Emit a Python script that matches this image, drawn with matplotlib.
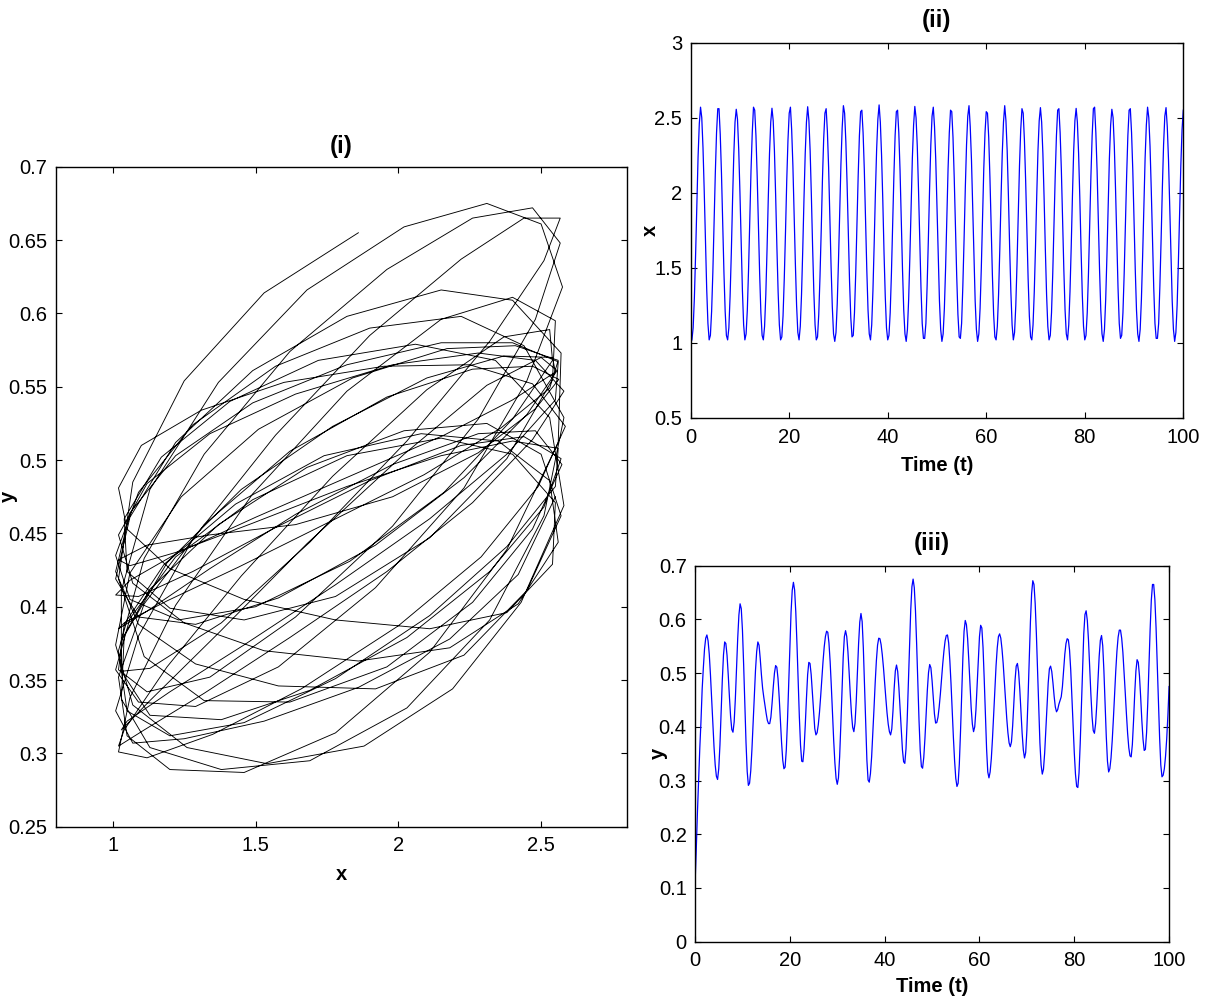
#!/usr/bin/env python3

import numpy as np
import matplotlib
matplotlib.use('Agg')
import matplotlib.pyplot as plt

# sampling grid of the simulation (time units)
t = np.arange(0, 100.001, 0.25)

x_vals = [
    1.00, 1.02, 1.10, 1.30,  1.59, 1.93, 2.24, 2.46,  2.57, 2.50, 2.30, 2.01,
    1.67, 1.36, 1.13, 1.02,  1.05, 1.21, 1.47, 1.81,  2.13, 2.40, 2.56, 2.56,
    2.39, 2.13, 1.80, 1.47,  1.21, 1.05, 1.02, 1.10,  1.31, 1.60, 1.95, 2.25,
    2.47, 2.556, 2.49, 2.29, 2.00, 1.66, 1.35, 1.12,  1.02, 1.06, 1.22, 1.49,
    1.82, 2.15, 2.40, 2.57,  2.55, 2.38, 2.11, 1.78,  1.46, 1.20, 1.05, 1.02,
    1.11, 1.32, 1.62, 1.96,  2.26, 2.47, 2.563, 2.48, 2.28, 1.98, 1.64, 1.34,
    1.12, 1.02, 1.04, 1.18,  1.43, 1.74, 2.08, 2.35,  2.53, 2.57, 2.42, 2.18,
    1.86, 1.53, 1.25, 1.07,  1.02, 1.11, 1.32, 1.62,  1.96, 2.26, 2.47, 2.573,
    2.48, 2.28, 1.98, 1.64,  1.34, 1.12, 1.02, 1.04,  1.19, 1.44, 1.75, 2.09,
    2.36, 2.53, 2.56, 2.41,  2.17, 1.84, 1.51, 1.24,  1.06, 1.01, 1.07, 1.26,
    1.54, 1.88, 2.19, 2.43,  2.58, 2.53, 2.34, 2.06,  1.72, 1.41, 1.17, 1.04,
    1.05, 1.20, 1.46, 1.78,  2.11, 2.38, 2.54, 2.55,  2.40, 2.15, 1.82, 1.49,
    1.22, 1.06, 1.02, 1.12,  1.35, 1.66, 2.00, 2.29,  2.49, 2.585, 2.47, 2.25,
    1.95, 1.60, 1.31, 1.10,  1.02, 1.05, 1.20, 1.46,  1.78, 2.11, 2.38, 2.54,
    2.55, 2.40, 2.15, 1.82,  1.49, 1.22, 1.06, 1.01,  1.09, 1.29, 1.58, 1.92,
    2.23, 2.45, 2.575, 2.50, 2.31, 2.02, 1.68, 1.37,  1.13, 1.03, 1.03, 1.13,
    1.38, 1.69, 2.03, 2.32,  2.51, 2.57, 2.44, 2.22,  1.90, 1.57, 1.28, 1.09,
    1.01, 1.06, 1.23, 1.50,  1.83, 2.16, 2.40, 2.55,  2.54, 2.37, 2.10, 1.77,
    1.45, 1.19, 1.04, 1.03,  1.13, 1.38, 1.69, 2.03,  2.32, 2.51, 2.58, 2.44,
    2.22, 1.90, 1.57, 1.28,  1.09, 1.01, 1.06, 1.23,  1.50, 1.83, 2.16, 2.40,
    2.54, 2.53, 2.37, 2.10,  1.77, 1.45, 1.19, 1.04,  1.02, 1.11, 1.32, 1.62,
    1.96, 2.26, 2.47, 2.58,  2.48, 2.28, 1.98, 1.64,  1.34, 1.12, 1.02, 1.07,
    1.25, 1.53, 1.86, 2.18,  2.42, 2.56, 2.53, 2.35,  2.08, 1.74, 1.43, 1.18,
    1.04, 1.02, 1.12, 1.34,  1.64, 1.98, 2.28, 2.48,  2.567, 2.47, 2.26, 1.96,
    1.62, 1.32, 1.11, 1.02,  1.05, 1.20, 1.46, 1.78,  2.11, 2.38, 2.55, 2.56,
    2.40, 2.15, 1.82, 1.49,  1.22, 1.06, 1.02, 1.12,  1.34, 1.64, 1.98, 2.28,
    2.48, 2.562, 2.47, 2.26, 1.96, 1.62, 1.32, 1.11,  1.02, 1.05, 1.20, 1.46,
    1.78, 2.11, 2.38, 2.56,  2.57, 2.40, 2.15, 1.82,  1.49, 1.22, 1.06, 1.01,
    1.09, 1.29, 1.58, 1.92,  2.23, 2.45, 2.556, 2.50, 2.31, 2.02, 1.68, 1.37,
    1.13, 1.03, 1.05, 1.20,  1.46, 1.78, 2.11, 2.38,  2.55, 2.56, 2.40, 2.15,
    1.82, 1.49, 1.22, 1.06,  1.01, 1.09, 1.29, 1.58,  1.92, 2.23, 2.45, 2.57,
    2.50, 2.31, 2.02, 1.68,  1.37, 1.13, 1.03, 1.03,  1.13, 1.38, 1.69, 2.03,
    2.32, 2.51, 2.567, 2.44, 2.22, 1.90, 1.57, 1.28,  1.09, 1.01, 1.07, 1.25,
    1.53, 1.86, 2.18, 2.42,  2.55,
]

y_vals = [
    0.108, 0.17, 0.24, 0.30,  0.36, 0.41, 0.47, 0.51,  0.545, 0.565, 0.571, 0.560,
    0.535, 0.497, 0.453, 0.406,  0.363, 0.329, 0.308, 0.302,  0.322, 0.366, 0.426, 0.487,
    0.534, 0.558, 0.555, 0.533,  0.497, 0.456, 0.419, 0.395,  0.390, 0.409, 0.452, 0.508,
    0.565, 0.608, 0.629, 0.620,  0.580, 0.516, 0.442, 0.371,  0.317, 0.291, 0.295, 0.318,
    0.358, 0.406, 0.458, 0.505,  0.540, 0.558, 0.552, 0.527,  0.497, 0.472, 0.455, 0.440,
    0.425, 0.412, 0.406, 0.406,  0.418, 0.444, 0.474, 0.500,  0.514, 0.511, 0.490, 0.455,
    0.412, 0.371, 0.338, 0.322,  0.325, 0.357, 0.411, 0.480,  0.551, 0.613, 0.654, 0.669,
    0.655, 0.614, 0.554, 0.485,  0.419, 0.366, 0.336, 0.335,  0.359, 0.403, 0.453, 0.497,
    0.520, 0.518, 0.497, 0.463,  0.426, 0.397, 0.385, 0.389,  0.404, 0.427, 0.457, 0.490,
    0.522, 0.549, 0.568, 0.578,  0.576, 0.556, 0.521, 0.475,  0.423, 0.374, 0.333, 0.304,
    0.293, 0.305, 0.344, 0.403,  0.469, 0.529, 0.568, 0.579,  0.568, 0.540, 0.502, 0.460,
    0.424, 0.399, 0.391, 0.407,  0.447, 0.501, 0.555, 0.595,  0.611, 0.596, 0.547, 0.477,
    0.401, 0.338, 0.301, 0.297,  0.313, 0.344, 0.387, 0.434,  0.482, 0.523, 0.552, 0.565,
    0.564, 0.553, 0.534, 0.510,  0.481, 0.453, 0.426, 0.405,  0.391, 0.385, 0.396, 0.429,
    0.471, 0.504, 0.515, 0.503,  0.473, 0.434, 0.392, 0.357,  0.335, 0.332, 0.359, 0.413,
    0.481, 0.554, 0.618, 0.661,  0.675, 0.659, 0.616, 0.553,  0.480, 0.411, 0.356, 0.326,
    0.323, 0.343, 0.379, 0.424,  0.468, 0.501, 0.516, 0.510,  0.486, 0.454, 0.424, 0.407,
    0.408, 0.418, 0.437, 0.461,  0.489, 0.517, 0.541, 0.560,  0.570, 0.571, 0.556, 0.523,
    0.480, 0.430, 0.380, 0.337,  0.304, 0.289, 0.295, 0.331,  0.391, 0.462, 0.529, 0.578,
    0.598, 0.590, 0.564, 0.524,  0.478, 0.435, 0.405, 0.391,  0.400, 0.431, 0.478, 0.528,
    0.568, 0.589, 0.584, 0.548,  0.489, 0.421, 0.359, 0.316,  0.305, 0.316, 0.341, 0.379,
    0.424, 0.471, 0.514, 0.547,  0.568, 0.573, 0.565, 0.545,  0.518, 0.484, 0.449, 0.416,
    0.389, 0.370, 0.363, 0.372,  0.402, 0.444, 0.486, 0.513,  0.518, 0.503, 0.470, 0.429,
    0.388, 0.357, 0.342, 0.352,  0.393, 0.455, 0.528, 0.596,  0.648, 0.672, 0.665, 0.630,
    0.574, 0.504, 0.433, 0.370,  0.329, 0.312, 0.321, 0.351,  0.394, 0.441, 0.482, 0.508,
    0.513, 0.503, 0.482, 0.457,  0.437, 0.428, 0.432, 0.442,  0.449, 0.456, 0.475, 0.505,
    0.535, 0.555, 0.564, 0.562,  0.543, 0.506, 0.456, 0.402,  0.352, 0.312, 0.289, 0.287,
    0.314, 0.369, 0.439, 0.512,  0.573, 0.609, 0.616, 0.598,  0.561, 0.512, 0.461, 0.419,
    0.393, 0.388, 0.406, 0.442,  0.488, 0.531, 0.561, 0.570,  0.551, 0.504, 0.443, 0.382,
    0.336, 0.316, 0.322, 0.342,  0.374, 0.415, 0.460, 0.504,  0.541, 0.567, 0.580, 0.580,
    0.565, 0.539, 0.503, 0.464,  0.424, 0.388, 0.361, 0.346,  0.344, 0.367, 0.411, 0.462,
    0.504, 0.525, 0.520, 0.495,  0.456, 0.412, 0.377, 0.356,  0.358, 0.389, 0.444, 0.513,
    0.581, 0.636, 0.665, 0.665,  0.637, 0.585, 0.517, 0.446,  0.380, 0.329, 0.307, 0.310,
    0.322, 0.345, 0.378, 0.422,  0.475,
]

# phase portrait drawn after the transient
phase_start = 21.0

x_vals = np.array(x_vals)
y_vals = np.array(y_vals)
keep = t >= phase_start

plt.rcParams['font.family'] = ['Liberation Sans', 'DejaVu Sans']
plt.rcParams['font.size'] = 14.5
plt.rcParams['axes.linewidth'] = 1.0
plt.rcParams['xtick.direction'] = 'in'
plt.rcParams['ytick.direction'] = 'in'
plt.rcParams['xtick.top'] = True
plt.rcParams['ytick.right'] = True
plt.rcParams['xtick.major.size'] = 4.5
plt.rcParams['ytick.major.size'] = 4.5
plt.rcParams['xtick.major.pad'] = 7
plt.rcParams['ytick.major.pad'] = 6

fig = plt.figure(figsize=(12.13, 9.98), dpi=100)

ax1 = fig.add_axes([0.0459, 0.1716, 0.4708, 0.6613])
ax1.plot(x_vals[keep], y_vals[keep], color='black', lw=0.65,
         solid_joinstyle='round')
ax1.set_xlim(0.8, 2.8)
ax1.set_ylim(0.25, 0.7)
ax1.set_xticks([1, 1.5, 2, 2.5])
ax1.set_xticklabels(['1', '1.5', '2', '2.5'])
ax1.set_yticks(np.arange(0.25, 0.701, 0.05))
ax1.set_yticklabels(['0.25', '0.3', '0.35', '0.4', '0.45', '0.5', '0.55', '0.6', '0.65', '0.7'])
ax1.set_xlabel('x', fontweight='bold', labelpad=7)
ax1.set_ylabel('y', fontweight='bold')
ax1.yaxis.set_label_coords(-0.066, 0.5)
ax1.set_title('(i)', fontweight='bold', pad=10)

ax2 = fig.add_axes([0.5694, 0.5812, 0.4061, 0.3761])
ax2.plot(t, x_vals, color='blue', lw=0.9)
ax2.set_xlim(0, 100)
ax2.set_ylim(0.5, 3)
ax2.set_yticks([0.5, 1, 1.5, 2, 2.5, 3])
ax2.set_yticklabels(['0.5', '1', '1.5', '2', '2.5', '3'])
ax2.set_xlabel('Time (t)', fontweight='bold', labelpad=7)
ax2.set_ylabel('x', fontweight='bold')
ax2.yaxis.set_label_coords(-0.062, 0.5)
ax2.set_title('(ii)', fontweight='bold', pad=11)

ax3 = fig.add_axes([0.5730, 0.0564, 0.3908, 0.3768])
ax3.plot(t, y_vals, color='blue', lw=0.9)
ax3.set_xlim(0, 100)
ax3.set_ylim(0, 0.7)
ax3.set_yticks(np.arange(0, 0.701, 0.1))
ax3.set_yticklabels(['0', '0.1', '0.2', '0.3', '0.4', '0.5', '0.6', '0.7'])
ax3.set_xlabel('Time (t)', fontweight='bold', labelpad=5)
ax3.set_ylabel('y', fontweight='bold')
ax3.yaxis.set_label_coords(-0.057, 0.5)
ax3.set_title('(iii)', fontweight='bold', pad=11)

fig.savefig('out.png', dpi=100)
